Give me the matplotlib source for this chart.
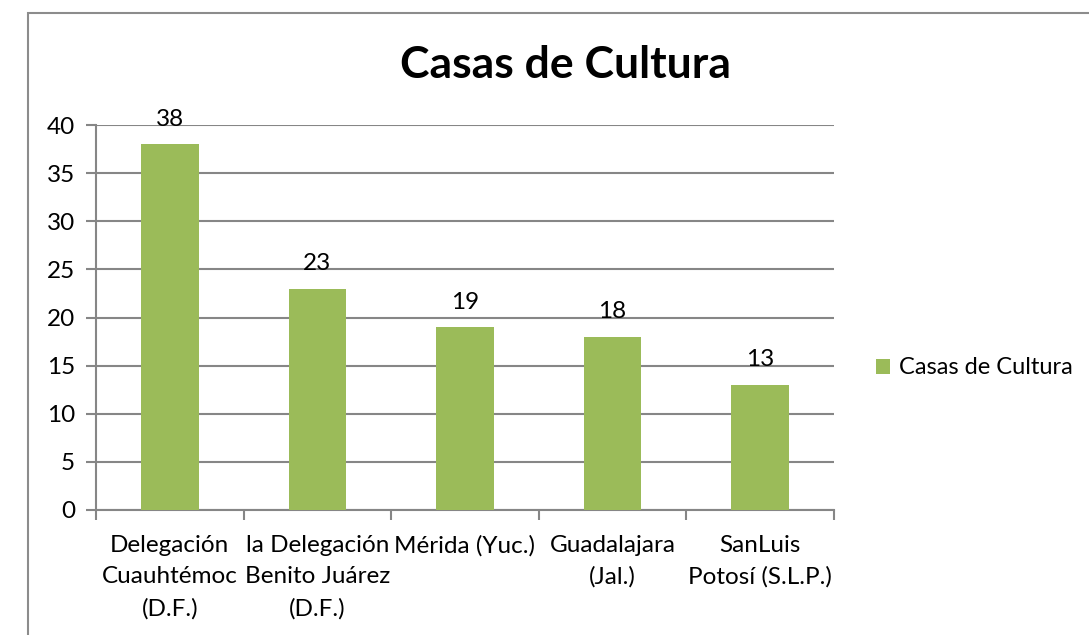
import matplotlib
matplotlib.use("Agg")
import matplotlib.pyplot as plt
from matplotlib.patches import Rectangle

categories = ["Delegación\nCuauhtémoc\n(D.F.)", "la Delegación\nBenito Juárez\n(D.F.)",
              "Mérida (Yuc.)", "Guadalajara\n(Jal.)", "SanLuis\nPotosí (S.L.P.)"]
values = [38, 23, 19, 18, 13]
series_name = "Casas de Cultura"

plt.rcParams['font.family'] = ['Lato', 'DejaVu Sans']
green = '#9BBB59'
grid_c = '#868686'

fig = plt.figure(figsize=[10.89, 6.35], dpi=100)
# chart frame
fig.patches.append(Rectangle((28/1089, -0.1), 1.2, 1 - 13/635 + 0.1, transform=fig.transFigure,
                             fill=False, edgecolor='#8c8c8c', lw=1.5))

ax = fig.add_axes([96/1089, 1 - 510/635, 738/1089, 385/635])
x = range(len(values))
bars = ax.bar(x, values, width=0.39, color=green, zorder=3, label=series_name)
for b, v in zip(bars, values):
    ax.text(b.get_x() + b.get_width()/2, v + 1.5, str(v), ha='center', va='bottom',
            fontsize=17.5, color='black')

ax.set_xlim(-0.5, len(values) - 0.5)
ax.set_ylim(0, 40)
ax.set_yticks(range(0, 41, 5))
ax.yaxis.grid(True, color=grid_c, lw=1.5, zorder=0)
ax.set_xticks([i - 0.5 for i in range(len(values) + 1)], minor=False)
ax.set_xticklabels([])
ax.set_xticks(list(x), minor=True)
ax.set_xticklabels(categories, minor=True, fontsize=17.5, linespacing=1.6, va='top')
ax.tick_params(axis='x', which='minor', length=0, pad=18)
ax.tick_params(axis='x', which='major', length=7, width=1.5, color=grid_c)
ax.tick_params(axis='y', length=7, width=1.5, color=grid_c, labelsize=17.5, pad=8)
for s in ['top', 'right']:
    ax.spines[s].set_visible(False)
for s in ['left', 'bottom']:
    ax.spines[s].set_color(grid_c)
    ax.spines[s].set_linewidth(1.5)

fig.text(566/1089, 1 - 65/635, "Casas de Cultura", ha='center', va='center',
         fontsize=32, fontweight='bold')

leg = fig.legend(handles=[bars], labels=[series_name], loc='center left',
                 bbox_to_anchor=(855/1089, 1 - 368/635), frameon=False, fontsize=17,
                 handlelength=0.6, handleheight=0.6, handletextpad=0.35)

fig.savefig("out.png", dpi=100)
